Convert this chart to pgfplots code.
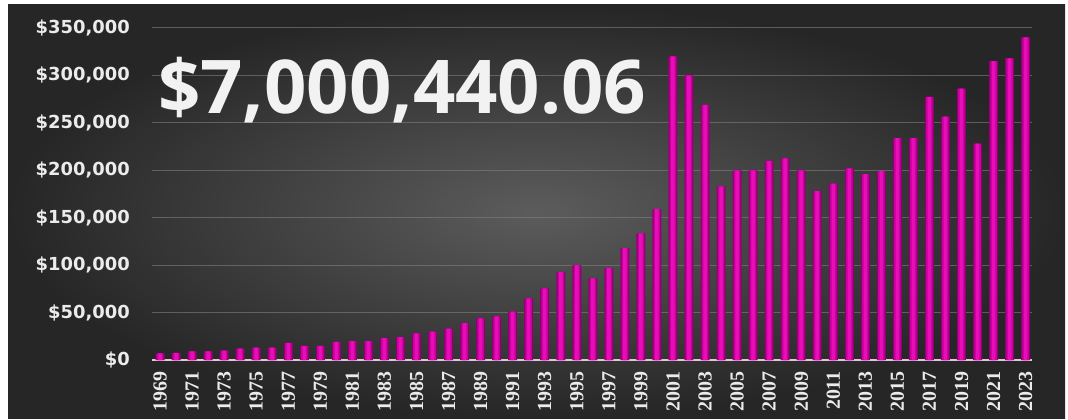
\documentclass[border=0pt]{standalone}
\usepackage{pgfplots}
\pgfplotsset{compat=1.18}
\usepackage{fontspec}
\setmainfont{DejaVu Sans}
\newfontfamily\bigfont{Open Sans}
\newfontfamily\yearfont{Liberation Serif}

\definecolor{bgin}{HTML}{5C5C5C}
\definecolor{bgout}{HTML}{262626}
\definecolor{barin}{HTML}{E60EB4}
\definecolor{barmid}{HTML}{C8009E}
\definecolor{baredge}{HTML}{900074}
\definecolor{gridc}{HTML}{808080}

\pgfplotstableread{
year value
1969 7000
1970 7500
1971 9000
1972 9000
1973 10000
1974 12000
1975 13000
1976 13000
1977 18000
1978 15000
1979 15000
1980 19000
1981 20000
1982 20000
1983 23000
1984 24000
1985 28000
1986 30000
1987 33000
1988 39000
1989 44000
1990 46000
1991 51000
1992 65000
1993 75500
1994 93000
1995 100000
1996 86000
1997 97000
1998 118000
1999 133500
2000 159000
2001 320000
2002 300000
2003 269000
2004 183000
2005 200000
2006 200000
2007 210000
2008 212500
2009 200000
2010 178000
2011 186000
2012 202000
2013 196000
2014 199000
2015 234000
2016 234000
2017 277500
2018 256500
2019 286000
2020 228000
2021 315000
2022 318000
2023 340000
}\payouts

\begin{document}
\begin{tikzpicture}[x=1bp,y=1bp]
  \useasboundingbox (0,0) rectangle (1068,419);
  \fill[white] (0,0) rectangle (1068,419);
  \shade[inner color=bgin, outer color=bgout] (8,1) rectangle (1065,414);
  \begin{axis}[
    at={(152bp,59bp)}, anchor=south west,
    scale only axis,
    width=880bp, height=332bp,
    ybar, bar shift=0pt,
    xmin=1968.5, xmax=2023.4,
    ymin=0, ymax=350000,
    scaled y ticks=false,
    axis x line*=bottom, axis y line*=left,
    y axis line style={draw=none},
    x axis line style={draw=white!82!magenta!90!black, line width=1.8bp},
    major tick length=0pt,
    ymajorgrids,
    grid style={draw=gridc, line width=1bp, opacity=0.6},
    xtick={1969,1971,...,2023},
    xticklabels={1969,1971,1973,1975,1977,1979,1981,1983,1985,1987,1989,1991,1993,1995,1997,1999,2001,2003,2005,2007,2009,2011,2013,2015,2017,2019,2021,2023},
    xticklabel style={rotate=90, anchor=east, inner sep=0pt, text=white!92!black,
      font=\yearfont\bfseries\fontsize{20}{20}\selectfont},
    xticklabel shift=11bp,
    ytick={0,50000,100000,150000,200000,250000,300000,350000},
    yticklabels={{\$0},{\$50,000},{\$100,000},{\$150,000},{\$200,000},{\$250,000},{\$300,000},{\$350,000}},
    yticklabel style={anchor=east, inner sep=0pt, text=white!92!black,
      font=\bfseries\fontsize{18}{18}\selectfont},
    yticklabel shift=22bp,
  ]
    % layered bars give the lighter centre stripe
    \addplot[draw=none, fill=baredge, bar width=9bp] table[x=year, y=value] {\payouts};
    \addplot[draw=none, fill=barmid, bar width=6.5bp] table[x=year, y=value] {\payouts};
    \addplot[draw=none, fill=barin, bar width=3.5bp] table[x=year, y=value] {\payouts};
  \end{axis}
  \node[anchor=base west, inner sep=0pt, text=white!95!black,
    font=\bigfont\bfseries\fontsize{74.5}{74.5}\selectfont] at (158,306) {\$7,000,440.06};
\end{tikzpicture}
\end{document}
